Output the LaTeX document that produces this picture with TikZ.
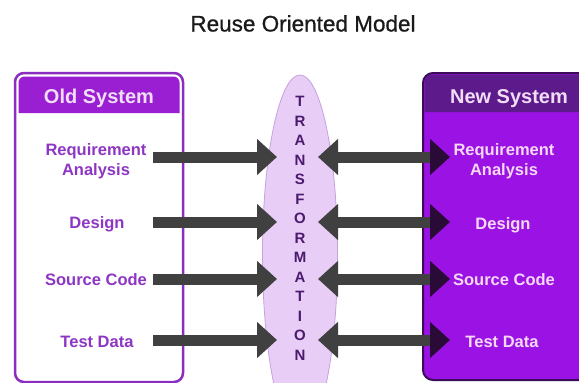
\documentclass[tikz,border=0pt]{standalone}
\usepackage{fontspec}
\setmainfont{Liberation Sans}
\newfontfamily\titlefont[FakeBold=0.8]{Liberation Sans}
\usetikzlibrary{arrows.meta,shapes.geometric}

\definecolor{titleink}{HTML}{1A1A1A}
\definecolor{oldborder}{HTML}{8A2DC0}
\definecolor{oldhead}{HTML}{9A1FD2}
\definecolor{oldink}{HTML}{8E36C4}
\definecolor{headink}{HTML}{F2DDF7}
\definecolor{newfill}{HTML}{9A12E4}
\definecolor{newhead}{HTML}{5C1A8A}
\definecolor{newborder}{HTML}{3B0B58}
\definecolor{newink}{HTML}{F7D8F5}
\definecolor{ellfill}{HTML}{E8CEF7}
\definecolor{elldraw}{HTML}{C6A2DC}
\definecolor{transink}{HTML}{4B1A6E}
\definecolor{arrowgray}{HTML}{404040}
\definecolor{tipdark}{HTML}{2A0A36}

\tikzset{
  headlabel/.style={font=\fontsize{20}{22}\selectfont\bfseries, text=headink, inner sep=0pt, anchor=base},
  olditem/.style={font=\fontsize{16.5}{20}\selectfont\bfseries, text=oldink, inner sep=0pt, align=center},
  newitem/.style={font=\fontsize{16.5}{20}\selectfont\bfseries, text=newink, inner sep=0pt, align=center},
  fwdarrow/.style={line width=11pt, arrowgray, -{Triangle[length=20pt,width=35pt]}},
  backarrow/.style={line width=11pt, arrowgray,
    {Triangle[length=20pt,width=35pt]}-{Triangle[length=20pt,width=35pt,color=tipdark]}},
}

\begin{document}
\begin{tikzpicture}[x=1pt,y=-1pt]
\useasboundingbox (0,0) rectangle (579,383);
\clip (0,0) rectangle (579,383);
\fill[white] (0,0) rectangle (579,383);

% title
\node[font=\titlefont\fontsize{22.5}{24}\selectfont, text=titleink, inner sep=0pt, anchor=base] (title) at (303,31.5) {Reuse Oriented Model};

% old system panel
\draw[oldborder, line width=2.5pt, fill=white, rounded corners=9pt] (15,73) rectangle (183,382);
\fill[oldhead] (18.5,113) {[rounded corners=6pt] -- (18.5,76.5) -- (179.5,76.5)} -- (179.5,113) -- cycle;
\node[headlabel] (oldtitle) at (99,103) {Old System};
\node[olditem] (oldreq) at (96,161) {Requirement\\Analysis};
\node[olditem, anchor=base] (olddes) at (97,228) {Design};
\node[olditem, anchor=base] (oldsrc) at (96,285) {Source Code};
\node[olditem, anchor=base] (oldtest) at (97,347) {Test Data};

% new system panel
\draw[newborder, line width=2pt, fill=newfill, rounded corners=10pt] (423,73) rectangle (620,380);
\fill[newhead] (424.5,112) {[rounded corners=8pt] -- (424.5,74.5) -- (618,74.5)} -- (618,112) -- cycle;
\node[headlabel] (newtitle) at (509,103) {New System};
\node[newitem] (newreq) at (504,161) {Requirement\\Analysis};
\node[newitem, anchor=base] (newdes) at (503,229) {Design};
\node[newitem, anchor=base] (newsrc) at (504,285) {Source Code};
\node[newitem, anchor=base] (newtest) at (502,347) {Test Data};

% transformation ellipse
\node[ellipse, draw=elldraw, line width=0.8pt, fill=ellfill, minimum width=75pt, minimum height=360pt, inner sep=0pt] (trans) at (300,255) {};

% arrow end points
\foreach \i/\y in {1/157, 2/222, 3/279, 4/340} {
  \coordinate (ls\i) at (153,\y);
  \coordinate (lt\i) at (277,\y);
  \coordinate (rs\i) at (318,\y);
  \coordinate (rt\i) at (450,\y);
}

% arrows into and out of the transformation
\foreach \i in {1,...,4} {
  \draw[fwdarrow] (ls\i) -- (lt\i);
  \draw[backarrow] (rs\i) -- (rt\i);
}

% vertical lettering
\node[font=\fontsize{15}{19.5}\selectfont\bfseries, text=transink, inner sep=0pt, align=center, anchor=north] (word) at (300,96)
  {T\\R\\A\\N\\S\\F\\O\\R\\M\\A\\T\\I\\O\\N};
\end{tikzpicture}
\end{document}
